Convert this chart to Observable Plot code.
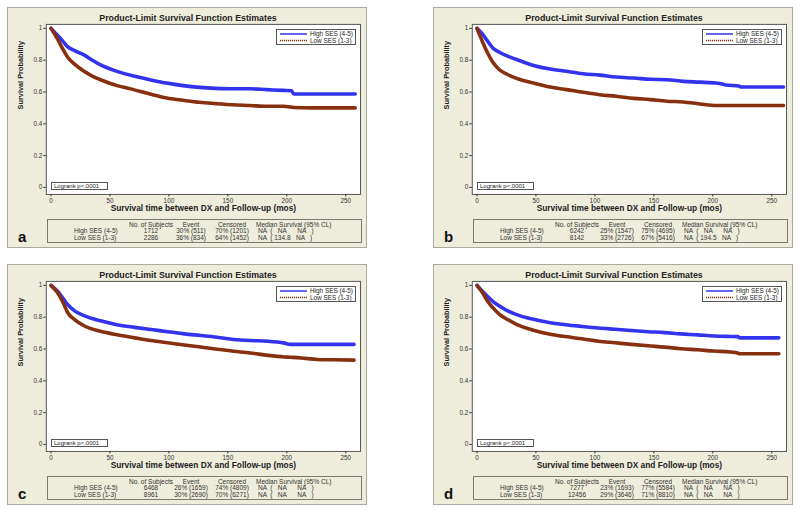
<!DOCTYPE html>
<html>
<head>
<meta charset="utf-8">
<script src="https://cdn.jsdelivr.net/npm/d3@7"></script>
<script src="https://cdn.jsdelivr.net/npm/@observablehq/plot@0.6"></script>
<style>
  body { margin: 0; background: #fff; font-family: "Liberation Sans", Arial, sans-serif; }
  #root { position: relative; width: 800px; height: 513px; overflow: hidden; }
  .panel { position: absolute; box-sizing: border-box; width: 360px; height: 241px; background: #eeeddc; border: 1px solid #a9a99f; }
  .panel svg.plotsvg { position: absolute; left: -1px; top: -1px; }
  .title { position: absolute; left: 0; width: 360px; top: 5px; text-align: center; font-weight: bold; font-size: 8.8px; color: #222; }
  .legend { position: absolute; left: 268px; top: 21px; width: 80px; height: 16px; box-sizing: border-box; border: 1px solid #555; background: #fff; }
  .legsvg { position: absolute; left: 0; top: 0; }
  .logrank { position: absolute; left: 43px; top: 174px; width: 57px; height: 8px; box-sizing: border-box; border: 1px solid #555; background: #fff; font-size: 6px; line-height: 6px; padding-left: 2px; color: #222; white-space: nowrap; }
  .table { position: absolute; left: 39px; top: 211px; width: 315px; height: 24px; box-sizing: border-box; border: 1px solid #7a7a72; }
  .cell { position: absolute; font-size: 6.5px; line-height: 7px; color: #333; white-space: pre; }
  .letter { position: absolute; left: 10px; top: 221px; font-size: 15px; line-height: 15px; font-weight: bold; color: #111; }
</style>
</head>
<body>
<div id="root"></div>
<script>
// ---------------- data ----------------
const groups = ["High SES (4-5)", "Low SES (1-3)"];
const panelLetters = ["a", "b", "c", "d"];
const titleText = "Product-Limit Survival Function Estimates";
const xLabel = "Survival time between DX and Follow-up (mos)";
const yLabel = "Survival Probability";
const xTicks = [0, 50, 100, 150, 200, 250];
const yTicks = [0, 0.2, 0.4, 0.6, 0.8, 1];
const logrankTexts = ["Logrank p<.0001", "Logrank p<.0001", "Logrank p<.0001", "Logrank p<.0001"];
const tableHeaders = ["No. of Subjects", "Event", "Censored", "Median Survival (95% CL)"];

// panel a
const timesA = [0, 5, 10, 14, 20, 28, 35, 42, 56, 70, 84, 98, 112, 126, 140, 154, 169, 183, 197, 204, 206, 220, 240, 258];
const highA  = [1, 0.96, 0.92, 0.885, 0.86, 0.833, 0.80, 0.77, 0.73, 0.70, 0.677, 0.656, 0.64, 0.629, 0.623, 0.62, 0.62, 0.615, 0.61, 0.608, 0.587, 0.587, 0.587, 0.587];
const lowA   = [1, 0.94, 0.87, 0.82, 0.775, 0.73, 0.70, 0.677, 0.64, 0.615, 0.587, 0.5625, 0.548, 0.535, 0.527, 0.52, 0.515, 0.51, 0.51, 0.505, 0.503, 0.50, 0.50, 0.50];
// panel b
const timesB = [0, 5, 9, 13.6, 19, 26, 33, 48, 62, 76, 90, 104, 118, 133, 147, 161, 175, 189, 203, 207, 211, 222, 224, 240, 260];
const highB  = [1, 0.96, 0.92, 0.875, 0.85, 0.825, 0.806, 0.767, 0.744, 0.73, 0.715, 0.706, 0.694, 0.6875, 0.68, 0.677, 0.667, 0.662, 0.656, 0.652, 0.644, 0.638, 0.631, 0.631, 0.631];
const lowB   = [1, 0.91, 0.845, 0.785, 0.74, 0.71, 0.6875, 0.656, 0.631, 0.615, 0.598, 0.583, 0.573, 0.56, 0.552, 0.542, 0.5375, 0.525, 0.515, 0.515, 0.515, 0.515, 0.515, 0.515, 0.515];
// panel c
const timesC = [0, 5.6, 11, 14, 20, 28, 42, 56, 71, 85, 99, 113, 127, 141, 155, 169, 184, 198, 203, 212, 226, 240, 257];
const highC  = [1, 0.963, 0.91, 0.88, 0.84, 0.81, 0.777, 0.753, 0.736, 0.722, 0.709, 0.695, 0.685, 0.674, 0.66, 0.653, 0.649, 0.637, 0.629, 0.629, 0.629, 0.629, 0.629];
const lowC   = [1, 0.953, 0.88, 0.83, 0.785, 0.746, 0.711, 0.689, 0.67, 0.653, 0.639, 0.625, 0.612, 0.598, 0.586, 0.575, 0.56, 0.55, 0.548, 0.544, 0.534, 0.532, 0.53];
// panel d
const timesD = [0, 5, 9, 13.4, 19, 26, 33, 47, 61, 75, 89, 103, 117, 131, 145, 159, 173, 187, 201, 215, 221, 223, 240, 256];
const highD  = [1, 0.96, 0.93, 0.90, 0.87, 0.84, 0.818, 0.788, 0.767, 0.753, 0.742, 0.732, 0.724, 0.716, 0.709, 0.703, 0.695, 0.689, 0.682, 0.679, 0.678, 0.67, 0.67, 0.67];
const lowD   = [1, 0.95, 0.90, 0.86, 0.818, 0.785, 0.757, 0.72, 0.695, 0.678, 0.664, 0.649, 0.639, 0.629, 0.62, 0.612, 0.602, 0.595, 0.587, 0.581, 0.575, 0.57, 0.57, 0.57];

// summary tables [high, low]
const subjectsA = ["1712", "2286"], eventsA = ["30% (511)", "36% (834)"], censoredA = ["70% (1201)", "64% (1452)"], medianA = ["NA  (   NA      NA   )", "NA  ( 134.8   NA   )"];
const subjectsB = ["6242", "8142"], eventsB = ["25% (1547)", "33% (2726)"], censoredB = ["75% (4695)", "67% (5416)"], medianB = ["NA  (   NA      NA   )", "NA  ( 194.5   NA   )"];
const subjectsC = ["6468", "8961"], eventsC = ["26% (1659)", "30% (2690)"], censoredC = ["74% (4809)", "70% (6271)"], medianC = ["NA  (   NA      NA   )", "NA  (   NA      NA   )"];
const subjectsD = ["7277", "12456"], eventsD = ["23% (1693)", "29% (3646)"], censoredD = ["77% (5584)", "71% (8810)"], medianD = ["NA  (   NA      NA   )", "NA  (   NA      NA   )"];

// ---------------- drawing ----------------
const blue = "#3333ee", brown = "#86300f";
const panels = [
  {times: timesA, high: highA, low: lowA, n: subjectsA, ev: eventsA, ce: censoredA, md: medianA, left: 7, top: 7},
  {times: timesB, high: highB, low: lowB, n: subjectsB, ev: eventsB, ce: censoredB, md: medianB, left: 433, top: 7},
  {times: timesC, high: highC, low: lowC, n: subjectsC, ev: eventsC, ce: censoredC, md: medianC, left: 7, top: 264},
  {times: timesD, high: highD, low: lowD, n: subjectsD, ev: eventsD, ce: censoredD, md: medianD, left: 433, top: 264}
];

const root = document.getElementById("root");

function el(cls, parent, text) {
  const d = document.createElement("div");
  d.className = cls;
  if (text !== undefined) d.textContent = text;
  parent.appendChild(d);
  return d;
}

panels.forEach((p, i) => {
  const panel = el("panel", root);
  panel.style.left = p.left + "px";
  panel.style.top = p.top + "px";

  const data = [];
  p.times.forEach((t, k) => {
    data.push({t, s: p.high[k], g: groups[0]});
    data.push({t, s: p.low[k], g: groups[1]});
  });

  const chart = Plot.plot({
    width: 360, height: 211,
    marginTop: 17, marginBottom: 23, marginLeft: 39, marginRight: 5,
    style: {background: "transparent", fontFamily: "Liberation Sans, Arial, sans-serif", color: "#333"},
    x: {domain: [-4, 262.5]},
    y: {domain: [-0.044, 1.025]},
    color: {domain: groups, range: [blue, brown]},
    marks: [
      Plot.frame({fill: "white"}),
      Plot.line(data, {x: "t", y: "s", stroke: "g", z: "g", strokeWidth: 3.6, strokeLinejoin: "round", curve: "monotone-x"}),
      Plot.frame({stroke: "#555"}),
      Plot.axisX({ticks: xTicks, tickSize: 2.5, tickPadding: 1.5, fontSize: 6.4, label: null, tickFormat: d => String(d)}),
      Plot.axisY({ticks: yTicks, tickSize: 2.5, tickPadding: 1.5, fontSize: 6.4, label: null, tickFormat: d => String(d)}),
      Plot.text([xLabel], {text: d => d, frameAnchor: "bottom", dy: 17, fontWeight: "bold", fontSize: 8.4, fill: "#222"}),
      Plot.text([yLabel], {text: d => d, frameAnchor: "left", dx: -26, rotate: -90, fontWeight: "bold", fontSize: 7.4, fill: "#222"})
    ]
  });
  chart.classList.add("plotsvg");
  panel.appendChild(chart);

  el("title", panel, titleText);

  // legend (small svg)
  const leg = el("legend", panel);
  const svg = d3.select(leg).append("svg").attr("class", "legsvg").attr("width", 78).attr("height", 14);
  [[blue, "none", 1.5], [brown, "1.2,0.8", 1.3]].forEach(([c, dash, w], r) => {
    const y = 4 + r * 6.5;
    svg.append("path").attr("d", `M3,${y}H30`)
      .style("stroke", c).style("stroke-width", w).style("stroke-dasharray", dash).style("fill", "none");
    svg.append("text").attr("x", 33).attr("y", y + 2.2).attr("font-size", 6.4)
      .attr("font-family", "Liberation Sans, Arial, sans-serif").attr("fill", "#222").text(groups[r]);
  });

  el("logrank", panel, logrankTexts[i]);

  // table
  el("table", panel);
  const rowsY = [212.5, 219, 225.5];
  const hdrX = [[143, "c"], [183, "c"], [224, "c"], [248, "l"]];
  tableHeaders.forEach((h, k) => {
    const c = el("cell", panel, h);
    c.style.top = rowsY[0] + "px";
    if (hdrX[k][1] === "c") { c.style.left = (hdrX[k][0] - 40) + "px"; c.style.width = "80px"; c.style.textAlign = "center"; }
    else c.style.left = hdrX[k][0] + "px";
  });
  [0, 1].forEach(r => {
    const y = rowsY[r + 1] + "px";
    const lab = el("cell", panel, groups[r]); lab.style.left = "66px"; lab.style.top = y;
    const vals = [p.n[r], p.ev[r], p.ce[r]];
    vals.forEach((v, k) => {
      const c = el("cell", panel, v);
      c.style.top = y; c.style.left = (hdrX[k][0] - 40) + "px"; c.style.width = "80px"; c.style.textAlign = "center";
    });
    const m = el("cell", panel, p.md[r]); m.style.left = "250px"; m.style.top = y;
  });

  el("letter", panel, panelLetters[i]);
});
</script>
</body>
</html>
